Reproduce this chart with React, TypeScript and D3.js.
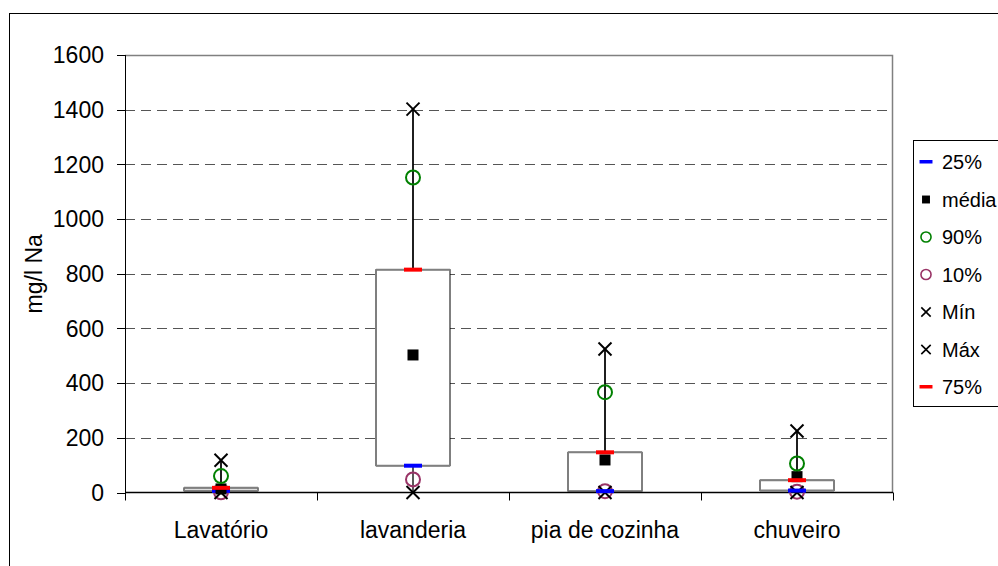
import * as d3 from 'd3';

const categories = ['Lavatório', 'lavanderia', 'pia de cozinha', 'chuveiro'];
const p25 = [6, 98, 5, 7];
const p75 = [17, 815, 147, 45];
const media = [13, 503, 119, 58];
const p90 = [60, 1152, 367, 106];
const p10 = [1, 48, 5, 3];
const minVals = [0, 0, 0, 0];
const maxVals = [118, 1402, 525, 225];
const yTicks = [0, 200, 400, 600, 800, 1000, 1200, 1400, 1600];

const legendItems = [
  { key: 'p25', label: '25%' },
  { key: 'media', label: 'média' },
  { key: 'p90', label: '90%' },
  { key: 'p10', label: '10%' },
  { key: 'min', label: 'Mín' },
  { key: 'max', label: 'Máx' },
  { key: 'p75', label: '75%' },
];

const W = 998;
const H = 566;
const plot = { left: 125, right: 893, top: 55, bottom: 492.5 };
const font = 'Arial, "Liberation Sans", sans-serif';

function Cross({ cx, cy, s, w }: { cx: number; cy: number; s: number; w: number }) {
  return (
    <g stroke="#000" strokeWidth={w}>
      <line x1={cx - s} y1={cy - s} x2={cx + s} y2={cy + s} />
      <line x1={cx - s} y1={cy + s} x2={cx + s} y2={cy - s} />
    </g>
  );
}

function Marker({ kind, cx, cy, big }: { kind: string; cx: number; cy: number; big: boolean }) {
  const k = big ? 1 : 0.72;
  switch (kind) {
    case 'p25':
    case 'p75':
      return (
        <rect x={cx - 9 * k} y={cy - 2} width={18 * k} height={big ? 4 : 3.5}
          fill={kind === 'p25' ? '#0000ff' : '#ff0000'} />
      );
    case 'media':
      return <rect x={cx - 5.5 * k} y={cy - 5.5 * k} width={11 * k} height={11 * k} fill="#000" />;
    case 'p90':
    case 'p10':
      return (
        <circle cx={cx} cy={cy} r={7 * k} fill="none"
          stroke={kind === 'p90' ? '#008000' : '#993366'} strokeWidth={big ? 2 : 1.6} />
      );
    default:
      return <Cross cx={cx} cy={cy} s={6.5 * k} w={big ? 2 : 1.6} />;
  }
}

export default function App() {
  const x = d3.scaleBand<string>().domain(categories).range([plot.left, plot.right]).padding(0);
  const y = d3.scaleLinear().domain([0, 1600]).range([plot.bottom, plot.top]);
  const bw = 74;
  const cxOf = (c: string) => (x(c) ?? 0) + x.bandwidth() / 2;
  const boundaries = [...categories.map((c) => x(c) ?? 0), plot.right];

  const series: Record<string, number[]> = {
    p25, media, p90, p10, min: minVals, max: maxVals, p75,
  };
  const drawOrder = ['p10', 'min', 'p25', 'media', 'p90', 'max', 'p75'];

  return (
    <svg width={W} height={H} style={{ position: 'absolute', left: 0, top: 0, background: '#fff' }}
      fontFamily={font}>
      <rect x={0} y={0} width={W} height={H} fill="#fff" />
      {/* outer chart frame */}
      <rect x={9.5} y={13.5} width={W + 20} height={H + 20} fill="none" stroke="#000" strokeWidth={1} />

      {/* grid */}
      {yTicks.filter((t) => t > 0 && t < 1600).map((t) => (
        <line key={t} x1={plot.left} x2={plot.right} y1={Math.round(y(t)) + 0.5} y2={Math.round(y(t)) + 0.5}
          stroke="#555" strokeDasharray="10,6" strokeWidth={1} />
      ))}
      {/* plot area border top/right */}
      <polyline points={`${plot.left},${plot.top + 0.5} ${plot.right - 0.5},${plot.top + 0.5} ${plot.right - 0.5},${plot.bottom}`}
        fill="none" stroke="#808080" strokeWidth={1.5} />

      {/* y axis */}
      <line x1={plot.left + 0.5} x2={plot.left + 0.5} y1={plot.top} y2={plot.bottom} stroke="#000" />
      {yTicks.map((t) => (
        <g key={t}>
          <line x1={plot.left - 8} x2={plot.left} y1={Math.round(y(t)) + 0.5} y2={Math.round(y(t)) + 0.5} stroke="#000" />
          <text x={plot.left - 21} y={y(t)} dy="0.36em" textAnchor="end" fontSize={23} fill="#000">{t}</text>
        </g>
      ))}
      <text transform={`translate(42,${(plot.top + plot.bottom) / 2}) rotate(-90)`} textAnchor="middle"
        fontSize={23} fill="#000">mg/l Na</text>

      {/* boxes */}
      {categories.map((c, i) => {
        const cx = cxOf(c);
        const top = y(p75[i]);
        const bot = y(p25[i]);
        return (
          <g key={c}>
            <line x1={cx} x2={cx} y1={y(maxVals[i])} y2={y(minVals[i])} stroke="#000" strokeWidth={1.3} />
            <rect x={cx - bw / 2} y={top} width={bw} height={Math.max(1, bot - top)} fill="#fff" stroke="#000" strokeWidth={1} />
            <line x1={cx - bw / 2} x2={cx + bw / 2} y1={top} y2={top} stroke="#808080" strokeWidth={2} />
            <line x1={cx - bw / 2} x2={cx + bw / 2} y1={bot} y2={bot} stroke="#808080" strokeWidth={2} />
            <line x1={cx} x2={cx} y1={y(maxVals[i])} y2={top} stroke="#000" strokeWidth={1.3} />
          </g>
        );
      })}

      {/* x axis */}
      <line x1={plot.left} x2={plot.right} y1={plot.bottom} y2={plot.bottom} stroke="#000" strokeWidth={1.5} />
      {boundaries.map((b, i) => (
        <line key={i} x1={Math.round(b) + 0.5} x2={Math.round(b) + 0.5} y1={plot.bottom} y2={plot.bottom + 8} stroke="#000" />
      ))}
      {categories.map((c) => (
        <text key={c} x={cxOf(c)} y={538} textAnchor="middle" fontSize={23} fill="#000">{c}</text>
      ))}

      {/* markers */}
      {categories.map((c, i) => (
        <g key={c}>
          {drawOrder.map((k) => (
            <Marker key={k} kind={k} cx={cxOf(c)} cy={y(series[k][i])} big />
          ))}
        </g>
      ))}

      {/* legend */}
      <rect x={913.5} y={140.5} width={120} height={266} fill="#fff" stroke="#000" strokeWidth={1} />
      {legendItems.map((it, i) => {
        const cy = 162 + i * 37.5;
        return (
          <g key={it.key}>
            <Marker kind={it.key} cx={926} cy={cy} big={false} />
            <text x={942} y={cy} dy="0.36em" fontSize={20} fill="#000">{it.label}</text>
          </g>
        );
      })}
    </svg>
  );
}
